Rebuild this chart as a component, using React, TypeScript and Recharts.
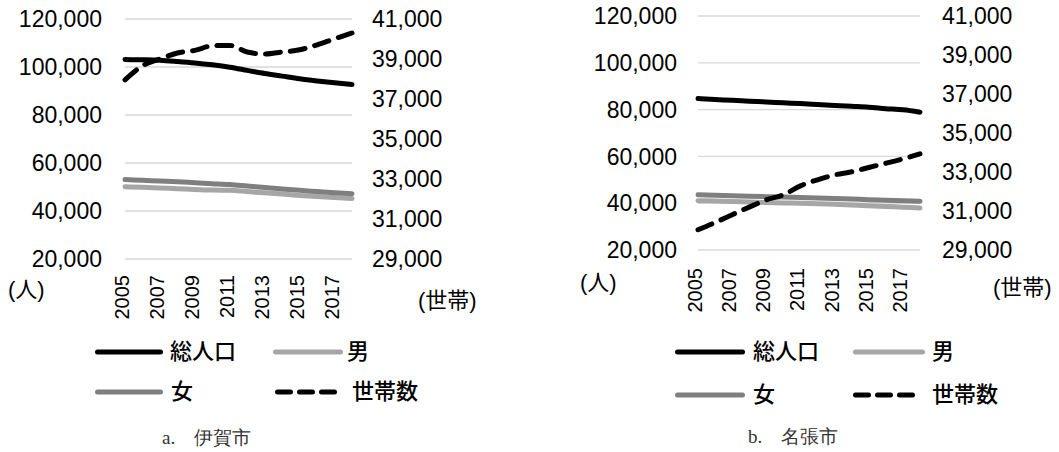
import React from 'react';
import { LineChart, Line, XAxis, YAxis, CartesianGrid } from 'recharts';

const years = ['2005', '2006', '2007', '2008', '2009', '2010', '2011', '2012', '2013', '2014', '2015', '2016', '2017', '2018'];

// a. 伊賀市
const igaTotal = [103100, 103000, 102800, 102300, 101700, 100900, 99900, 98600, 97300, 96200, 95100, 94200, 93400, 92700];
const igaMale = [50100, 49900, 49600, 49300, 49000, 48700, 48600, 48100, 47600, 47100, 46500, 46000, 45600, 45200];
const igaFemale = [53100, 52800, 52500, 52200, 51800, 51400, 51000, 50400, 49800, 49200, 48600, 48100, 47600, 47200];
const igaHouseholds = [37960, 38660, 39000, 39300, 39430, 39660, 39680, 39350, 39250, 39350, 39460, 39710, 40010, 40300];

// b. 名張市
const nabariTotal = [84700, 84300, 84000, 83600, 83300, 82900, 82600, 82200, 81800, 81400, 81000, 80400, 79900, 78900];
const nabariMale = [41100, 40900, 40700, 40500, 40300, 40100, 40000, 39800, 39500, 39200, 38900, 38600, 38300, 38000];
const nabariFemale = [43600, 43400, 43200, 43000, 42800, 42600, 42400, 42200, 42000, 41800, 41500, 41300, 41000, 40800];
const nabariHouseholds = [30040, 30410, 30810, 31200, 31570, 31830, 32290, 32600, 32850, 33010, 33230, 33450, 33670, 33930];

const peopleTicks = [20000, 40000, 60000, 80000, 100000, 120000];
const householdTicks = [29000, 31000, 33000, 35000, 37000, 39000, 41000];

const legendNames = { total: '総人口', male: '男', female: '女', households: '世帯数' };

const FONT = '"Liberation Sans", Arial, "Noto Sans CJK JP", sans-serif';
const COLORS = { total: '#000000', male: '#a6a6a6', female: '#7f7f7f', households: '#000000', grid: '#d9d9d9' };

const buildRows = (total: number[], male: number[], female: number[], households: number[]) =>
    years.map((year, i) => ({ year, total: total[i], male: male[i], female: female[i], households: households[i] }));

const igaData = buildRows(igaTotal, igaMale, igaFemale, igaHouseholds);
const nabariData = buildRows(nabariTotal, nabariMale, nabariFemale, nabariHouseholds);

const fmt = (v: number) => v.toLocaleString('en-US');

const YearTick = (props: any) => {
    const { x, y, payload } = props;
    return (
        <text
            x={x}
            y={y}
            dy={-3}
            transform={`rotate(-90, ${x}, ${y})`}
            textAnchor="end"
            dominantBaseline="central"
            fontSize={20}
            fontFamily={FONT}
            fill="#000"
        >
            {payload.value}
        </text>
    );
};

type CityChartProps = {
    data: any[];
    width: number;
    top: number;
    leftWidth: number;
    rightWidth: number;
    plotHeight: number;
    leftGap: number;
    rightGap: number;
    xGap: number;
};

function CityChart({ data, width, top, leftWidth, rightWidth, plotHeight, leftGap, rightGap, xGap }: CityChartProps) {
    const height = 330;
    const tickStyle = { fill: '#000', fontSize: 23, fontFamily: FONT };
    return (
        <LineChart width={width} height={height} data={data} margin={{ top, right: 0, bottom: 0, left: 0 }}>
            <CartesianGrid yAxisId="people" vertical={false} stroke={COLORS.grid} strokeWidth={1.3} />
            <XAxis
                dataKey="year"
                interval={1}
                axisLine={false}
                tickLine={false}
                tickSize={0}
                tickMargin={xGap}
                height={height - top - plotHeight}
                tick={<YearTick />}
            />
            <YAxis
                yAxisId="people"
                orientation="left"
                width={leftWidth}
                domain={[20000, 120000]}
                ticks={peopleTicks}
                axisLine={false}
                tickLine={false}
                tickSize={0}
                tickMargin={leftGap}
                tick={tickStyle}
                tickFormatter={fmt}
            />
            <YAxis
                yAxisId="households"
                orientation="right"
                width={rightWidth}
                domain={[29000, 41000]}
                ticks={householdTicks}
                axisLine={false}
                tickLine={false}
                tickSize={0}
                tickMargin={rightGap}
                tick={{ ...tickStyle, textAnchor: 'start' }}
                tickFormatter={fmt}
            />
            <Line yAxisId="people" dataKey="total" type="monotone" stroke={COLORS.total} strokeWidth={5} strokeLinecap="round" dot={false} isAnimationActive={false} />
            <Line yAxisId="people" dataKey="male" type="monotone" stroke={COLORS.male} strokeWidth={5} strokeLinecap="round" dot={false} isAnimationActive={false} />
            <Line yAxisId="people" dataKey="female" type="monotone" stroke={COLORS.female} strokeWidth={5} strokeLinecap="round" dot={false} isAnimationActive={false} />
            <Line yAxisId="households" dataKey="households" type="monotone" stroke={COLORS.households} strokeWidth={5} strokeLinecap="round" strokeDasharray="15 10" dot={false} isAnimationActive={false} />
        </LineChart>
    );
}

type LegendItemProps = { x: number; y: number; len: number; labelX: number; color: string; dashed?: boolean; label: string };

function LegendItem({ x, y, len, labelX, color, dashed, label }: LegendItemProps) {
    return (
        <>
            <svg style={{ position: 'absolute', left: x, top: y - 5 }} width={len} height={10}>
                <line
                    x1={2.5}
                    y1={5}
                    x2={len - 2.5}
                    y2={5}
                    stroke={color}
                    strokeWidth={5}
                    strokeLinecap="round"
                    strokeDasharray={dashed ? '13 9' : undefined}
                />
            </svg>
            <div style={{ position: 'absolute', left: labelX, top: y - 15, fontSize: 22, lineHeight: '30px', fontFamily: FONT, fontWeight: 500, color: '#000', whiteSpace: 'nowrap' }}>
                {label}
            </div>
        </>
    );
}

const unitStyle: React.CSSProperties = { position: 'absolute', fontSize: 22, lineHeight: '30px', fontFamily: FONT, color: '#000', whiteSpace: 'nowrap' };
const captionStyle: React.CSSProperties = { position: 'absolute', fontSize: 19, lineHeight: '26px', fontFamily: 'serif', color: '#333', whiteSpace: 'nowrap' };

export default function App() {
    return (
        <div style={{ position: 'absolute', left: 0, top: 0, width: 1059, height: 452, background: '#fff', overflow: 'hidden' }}>
            <div style={{ position: 'absolute', left: 0, top: 0 }}>
                <CityChart data={igaData} width={560} top={19} leftWidth={125} rightWidth={208} plotHeight={240} leftGap={23} rightGap={20} xGap={16} />
            </div>
            <div style={{ position: 'absolute', left: 560, top: 0 }}>
                <CityChart data={nabariData} width={499} top={16} leftWidth={138} rightWidth={139} plotHeight={234} leftGap={21} rightGap={22} xGap={18} />
            </div>

            <div style={{ ...unitStyle, left: 8, top: 275 }}>(人)</div>
            <div style={{ ...unitStyle, left: 418, top: 286 }}>(世帯)</div>
            <div style={{ ...unitStyle, left: 580, top: 268 }}>(人)</div>
            <div style={{ ...unitStyle, left: 993, top: 273 }}>(世帯)</div>

            <LegendItem x={95} y={352} len={68} labelX={170} color={COLORS.total} label={legendNames.total} />
            <LegendItem x={273} y={352} len={70} labelX={347} color={COLORS.male} label={legendNames.male} />
            <LegendItem x={95} y={392} len={68} labelX={171} color={COLORS.female} label={legendNames.female} />
            <LegendItem x={275} y={392} len={62} labelX={352} color={COLORS.households} dashed label={legendNames.households} />

            <LegendItem x={675} y={352} len={70} labelX={753} color={COLORS.total} label={legendNames.total} />
            <LegendItem x={853} y={352} len={72} labelX={932} color={COLORS.male} label={legendNames.male} />
            <LegendItem x={675} y={395} len={70} labelX={753} color={COLORS.female} label={legendNames.female} />
            <LegendItem x={853} y={395} len={65} labelX={932} color={COLORS.households} dashed label={legendNames.households} />

            <div style={{ ...captionStyle, left: 162, top: 425 }}>a.　伊賀市</div>
            <div style={{ ...captionStyle, left: 748, top: 424 }}>b.　名張市</div>
        </div>
    );
}
